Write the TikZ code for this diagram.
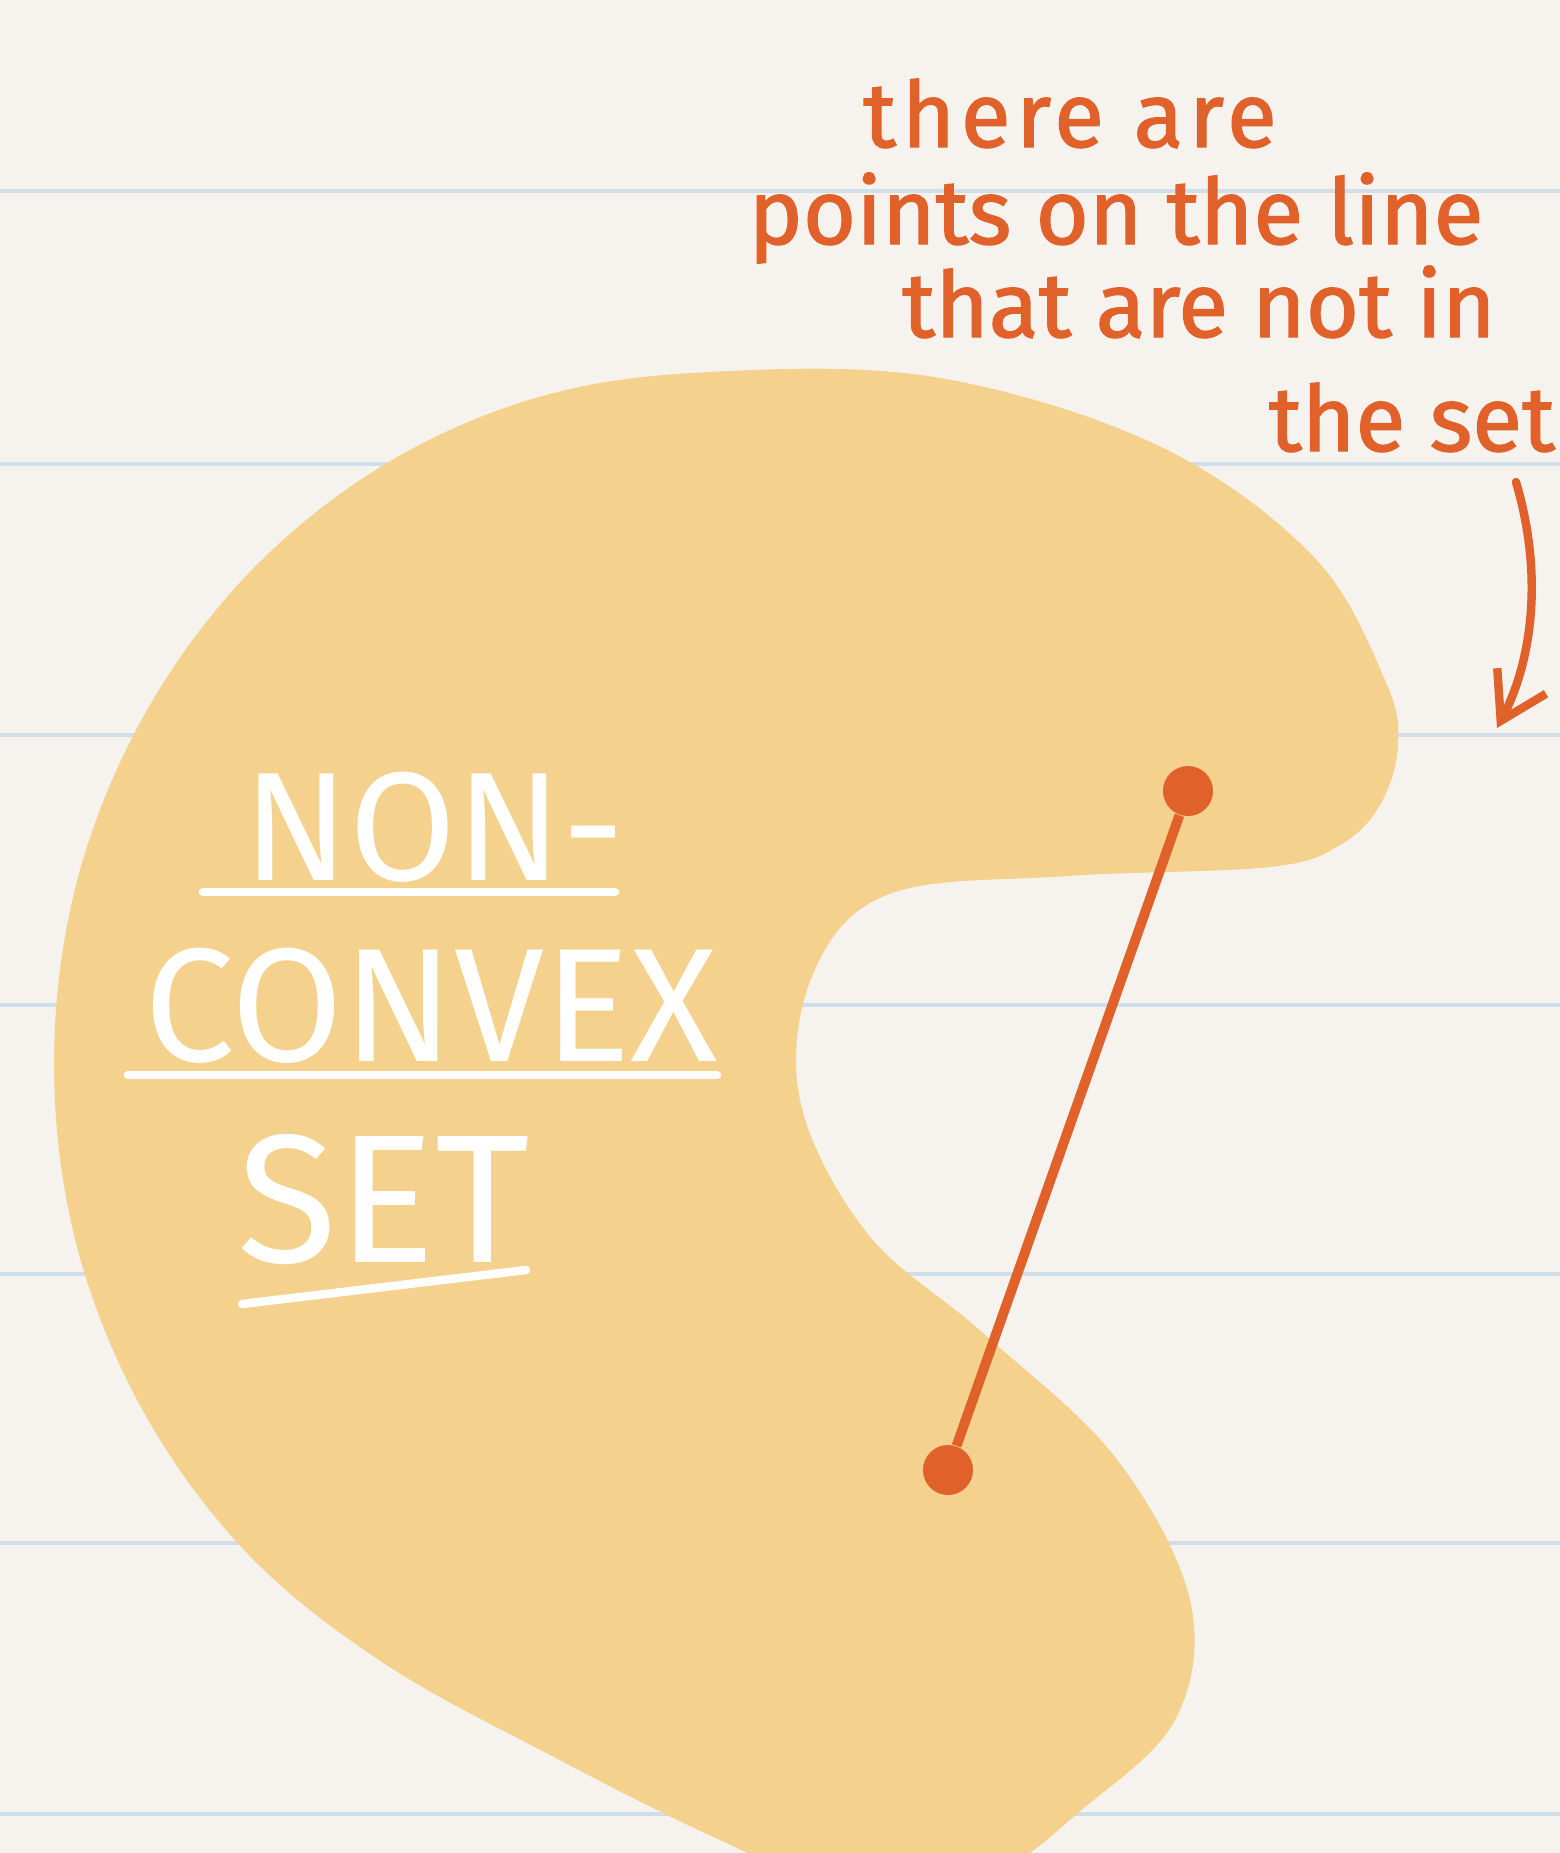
\documentclass[tikz,border=0pt]{standalone}
\usepackage{fontspec}
\setmainfont{Fira Sans}
\newfontfamily\notefont[FakeBold=1.4]{Fira Sans}
\usetikzlibrary{arrows.meta}
\definecolor{paper}{HTML}{F6F3EF}
\definecolor{ruling}{HTML}{CFDFEA}
\definecolor{blobfill}{HTML}{F4D18C}
\definecolor{ink}{HTML}{E0612A}
\begin{document}
\begin{tikzpicture}[x=0.01cm,y=-0.01cm,
    notetext/.style={text=ink,font=\notefont\fontsize{26}{28}\selectfont,inner sep=0pt,anchor=base},
    setword/.style={text=white,inner sep=0pt,anchor=base},
    uline/.style={white,line width=2.4pt,line cap=round},
    enddot/.style={circle,fill=ink,minimum size=0.5cm,inner sep=0pt}]
    \fill[paper] (0,0) rectangle (1560,1853);
    \useasboundingbox (0,0) rectangle (1560,1853);
    % ruled paper
    \foreach \y in {191,464,735,1005,1274,1543,1814}
        \draw[ruling,line width=1.3pt] (0,\y) -- (1560,\y);
    % the set
    \fill[blobfill] plot[smooth cycle,tension=0.6] coordinates {
        (709,372) (934,377) (1157,445) (1313,556) (1385,680) (1398,745)
        (1380,805) (1340,845) (1270,867) (1068,876) (889,894) (813,974)
        (800,1100) (867,1233) (983,1333) (1115,1457) (1190,1600) (1175,1720)
        (1079,1812) (1000,1870) (880,1905) (720,1840) (550,1755) (382,1662)
        (246,1552) (142,1409) (76,1243) (54,1064) (76,885) (142,719) (246,576)
        (382,466) (539,397)};
    % title
    \node (non) [setword, font=\fontsize{44}{48}\selectfont] at (434,880) {NON-};
    \node (convex) [setword, font=\fontsize{46}{50}\selectfont] at (431,1061) {CONVEX};
    \node (setw) [setword, font=\fontsize{52}{56}\selectfont] at (384,1262) {SET};
    \draw[uline] (203,892) -- (615,892);
    \draw[uline] (128,1075) -- (717,1075);
    \draw[uline] (242,1304) -- (526,1270);
    % segment between two points of the set
    \node (lowdot) [enddot] at (948,1470) {};
    \node (topdot) [enddot] at (1188,791) {};
    \draw[ink,line width=2.8pt] (lowdot) -- (topdot);
    % note
    \node (noteone) [notetext] at (1070,147) {\addfontfeature{LetterSpace=6}there are};
    \node (notetwo) [notetext] at (1116,244) {points on the line};
    \node (notethree) [notetext] at (1199,337) {that are not in};
    \node (notefour) [notetext] at (1412,451) {the set};
    \coordinate (arrowend) at (1497,728);
    \draw[ink,line width=2.4pt,line cap=round,-{Straight Barb[length=4.5mm,width=5.5mm]}]
        (1516,482) .. controls (1545,580) and (1530,665) .. (arrowend);
\end{tikzpicture}
\end{document}
